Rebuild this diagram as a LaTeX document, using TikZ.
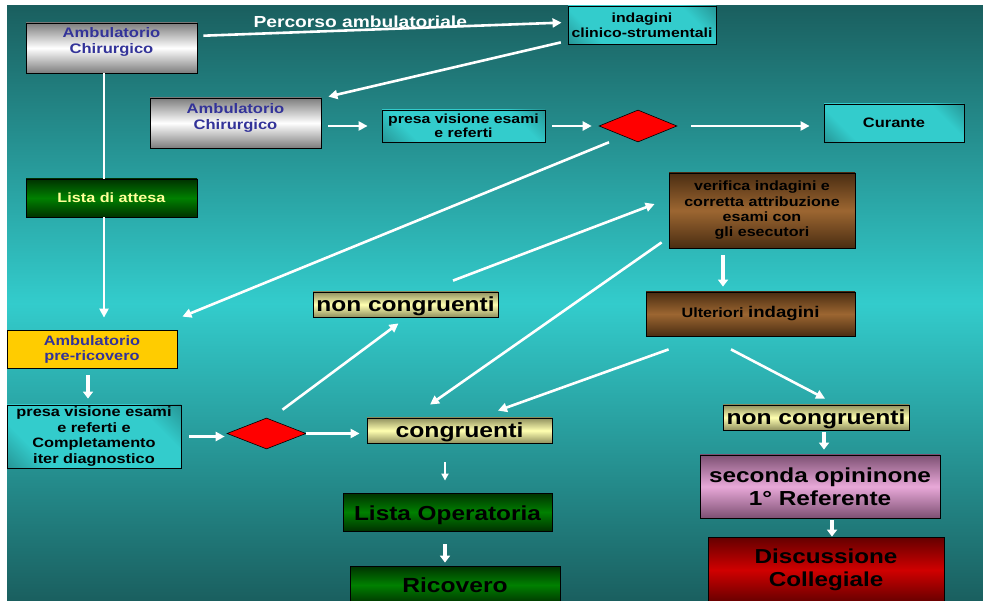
\documentclass[tikz,border=0pt]{standalone}
\usepackage{fontspec}
\setmainfont[FakeStretch=1.2]{Liberation Sans}
\usetikzlibrary{shapes.geometric,arrows.meta}

\newcommand\taglia[2]{\fontsize{#1}{#2}\selectfont}

\definecolor{fondoscuro}{RGB}{26,95,95}
\definecolor{fondochiaro}{RGB}{51,204,204}
\definecolor{cianoscuro}{RGB}{24,90,90}
\definecolor{ciano}{RGB}{51,204,204}
\definecolor{grigiobordo}{RGB}{125,125,125}
\definecolor{bluscuro}{RGB}{51,51,153}
\definecolor{verdescuro}{RGB}{0,50,0}
\definecolor{verde}{RGB}{0,128,0}
\definecolor{paglierino}{RGB}{255,255,153}
\definecolor{marronescuro}{RGB}{74,45,18}
\definecolor{marrone}{RGB}{156,102,49}
\definecolor{cachiscuro}{RGB}{145,145,95}
\definecolor{cachi}{RGB}{255,255,176}
\definecolor{rosascuro}{RGB}{125,80,115}
\definecolor{rosa}{RGB}{232,168,216}
\definecolor{rossoscuro}{RGB}{100,0,0}
\definecolor{rosso}{RGB}{208,0,0}
\definecolor{giallo}{RGB}{255,204,0}

\pgfdeclarehorizontalshading{sfumaciano}{100bp}{color(0bp)=(cianoscuro); color(28bp)=(ciano); color(72bp)=(ciano); color(100bp)=(cianoscuro)}

\begin{document}
\begin{tikzpicture}[x=1pt, y=-1pt, >={Triangle[length=9pt,width=9pt]},
  box/.style={draw=black, line width=.8pt, align=center, inner sep=2pt},
  grigio/.style={box, top color=grigiobordo, bottom color=grigiobordo, middle color=white, text=bluscuro},
  cianobox/.style={box, shading=sfumaciano, shading angle=45},
  verdebox/.style={box, top color=verdescuro, bottom color=verdescuro, middle color=verde},
  marronebox/.style={box, top color=marronescuro, bottom color=marronescuro, middle color=marrone},
  pagliabox/.style={box, inner sep=0pt, text height=19pt, top color=cachiscuro, bottom color=cachiscuro, middle color=cachi},
  rosabox/.style={box, top color=rosascuro, bottom color=rosascuro, middle color=rosa},
  rossobox/.style={box, top color=rossoscuro, bottom color=rossoscuro, middle color=rosso},
  giallobox/.style={box, fill=giallo, text=bluscuro},
  rombo/.style={diamond, draw=black, fill=red, line width=.6pt, inner sep=0pt, minimum width=78, minimum height=32},
  linea/.style={draw=white, line width=2.6pt},
  freccia/.style={linea, ->},
  frecciasottile/.style={draw=white, line width=1.8pt, -{Triangle[length=7pt,width=7pt]}},
  frecciagrossa/.style={draw=white, line width=4pt, -{Triangle[length=7pt,width=10pt]}}]

\useasboundingbox (0,0) rectangle (983,601);

%% Sfondo.

\shade[top color=fondoscuro, bottom color=fondoscuro, middle color=fondochiaro] (7,6) rectangle (983,601);

%% Percorso ambulatoriale.

\node[grigio, minimum width=171, minimum height=50, text depth=14pt, font=\bfseries\taglia{13.8}{16}] (amb1) at (111.5,48) {Ambulatorio\\Chirurgico};
\node[cianobox, minimum width=148, minimum height=38, font=\bfseries\taglia{13.2}{15}] (indagini) at (642,25) {indagini\\clinico-strumentali};
\node[grigio, minimum width=171, minimum height=50, text depth=13pt, font=\bfseries\taglia{13.8}{16}] (amb2) at (235.5,123) {Ambulatorio\\Chirurgico};
\node[cianobox, minimum width=163, minimum height=32, font=\bfseries\taglia{13.2}{14}] (presa1) at (463.5,126) {presa visione esami\\e referti};
\node[rombo] (rombo1) at (638,126) {};
\node[cianobox, minimum width=140, minimum height=38, font=\bfseries\taglia{13.7}{16}] (curante) at (894,123) {Curante};
\node[verdebox, minimum width=171, minimum height=38, text=paglierino, font=\bfseries\taglia{13.5}{16}] (attesa) at (111.5,198) {Lista di attesa};

%% Pre-ricovero.

\node[giallobox, minimum width=170, minimum height=38, font=\bfseries\taglia{13.6}{15}] (prericovero) at (92,349) {Ambulatorio\\pre-ricovero};
\node[cianobox, inner sep=1pt, minimum width=174, minimum height=63, font=\bfseries\taglia{13.6}{15.4}] (presa2) at (94,436.5) {presa visione esami\\e referti e\\Completamento\\iter diagnostico};
\node[rombo, minimum width=79, minimum height=31] (rombo2) at (266.5,433.5) {};
\node[pagliabox, minimum width=185, minimum height=25, font=\bfseries\taglia{20.4}{22}] (noncong1) at (405.5,304.5) {non congruenti};
\node[pagliabox, minimum width=185, minimum height=25, font=\bfseries\taglia{20.6}{22}] (cong) at (459.5,430.5) {congruenti};
\node[verdebox, minimum width=209, minimum height=38, text height=21pt, font=\bfseries\taglia{20.3}{22}] (listaop) at (447.5,512) {Lista Operatoria};
\node[verdebox, minimum width=210, minimum height=38, font=\bfseries\taglia{20.5}{22}] (ricovero) at (455,585) {Ricovero};

%% Verifica e seconda opinione.

\node[marronebox, minimum width=186, minimum height=75, font=\bfseries\taglia{13.4}{15.3}] (verifica) at (762,210.5) {verifica indagini e\\corretta attribuzione\\esami con\\gli esecutori};
\node[marronebox, minimum width=209, minimum height=44, font=\bfseries] (ulteriori) at (750.5,314) {\taglia{13.5}{16}Ulteriori \taglia{15.5}{16}indagini};
\node[pagliabox, minimum width=186, minimum height=25, font=\bfseries\taglia{20.5}{22}] (noncong2) at (816,417.5) {non congruenti};
\node[rosabox, minimum width=240, minimum height=63, font=\bfseries\taglia{20.3}{23}] (seconda) at (820,486.5) {seconda opininone\\1° Referente};
\node[rossobox, minimum width=236, minimum height=66, font=\bfseries\taglia{20.2}{23}] (discussione) at (826,570) {Discussione\\Collegiale};

%% Frecce.

\draw[freccia, shorten <=6pt, shorten >=6pt] (amb1.8) -- node[pos=.44, above, inner sep=1pt, text=white, font=\bfseries\taglia{16}{18}] (percorso) {Percorso ambulatoriale} (indagini.178);
\draw[freccia, shorten <=7pt] (indagini.192) -- ([shift={(7,-1)}]amb2.north east);
\draw[linea] ([xshift=-7.5pt]amb1.south) -- ([xshift=-7.5pt]attesa.north);
\draw[freccia] ([xshift=-7.5pt]attesa.south) -- ([shift={(12,-12)}]prericovero.north);
\draw[freccia, shorten <=7pt, shorten >=14pt] (amb2.east |- presa1.west) -- (presa1.west);
\draw[freccia, shorten <=7pt, shorten >=7pt] (presa1.east) -- (rombo1.west);
\draw[freccia, shorten <=14pt, shorten >=14pt] (rombo1.east) -- (rombo1.east -| curante.west);
\draw[freccia] ([shift={(-29,0)}]rombo1.south) -- ([shift={(5,-13)}]prericovero.north east);
\draw[frecciagrossa, shorten <=7pt, shorten >=6pt] ([xshift=-4pt]prericovero.south) -- ([xshift=-4pt]prericovero.south |- presa2.north);
\draw[freccia, shorten <=8pt, shorten >=2pt] (presa2.east) -- (presa2.east -| rombo2.west);
\draw[freccia, shorten >=7pt] (rombo2.east) -- (rombo2.east -| cong.west);
\draw[freccia] ([shift={(16,-8)}]rombo2.north) -- ([shift={(-7,6)}]noncong1.south);
\draw[freccia] ([shift={(47.5,-11)}]noncong1.north) -- ([shift={(-14,-6.5)}]verifica.west);
\draw[freccia] ([shift={(-7,-6)}]verifica.south west) -- ([shift={(-29.5,-13)}]cong.north);
\draw[frecciagrossa, shorten <=7pt, shorten >=5pt] ([xshift=-39pt]verifica.south) -- ([xshift=-39pt]verifica.south |- ulteriori.north);
\draw[freccia] ([shift={(23,13)}]ulteriori.south west) -- ([shift={(38.5,-7)}]cong.north);
\draw[freccia] ([shift={(-19.5,13)}]ulteriori.south) -- ([shift={(9,-6)}]noncong2.north);
\draw[frecciagrossa, shorten <=2pt, shorten >=5pt] ([xshift=8pt]noncong2.south) -- ([xshift=8pt]noncong2.south |- seconda.north);
\draw[frecciagrossa, shorten <=2pt] ([xshift=12pt]seconda.south) -- ([xshift=12pt]seconda.south |- discussione.north);
\draw[frecciasottile, shorten <=19pt, shorten >=12pt] ([xshift=-14.5pt]cong.south) -- ([xshift=-14.5pt]cong.south |- listaop.north);
\draw[frecciagrossa, shorten <=13pt, shorten >=3pt] ([xshift=-2.5pt]listaop.south) -- ([xshift=-2.5pt]listaop.south |- ricovero.north);

\end{tikzpicture}
\end{document}
